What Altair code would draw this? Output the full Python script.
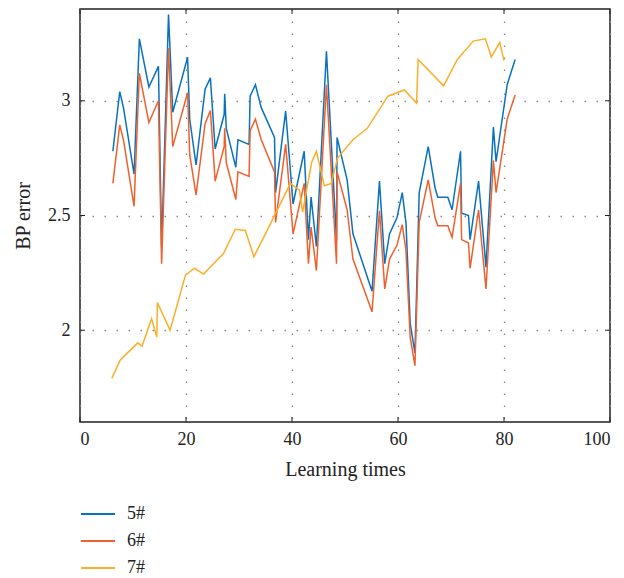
import altair as alt
import pandas as pd

# ---- data ----
x56 = [6.2, 7.5, 8.2, 10.2, 11.2, 13.0, 14.8, 15.4, 16.7, 17.5, 20.3, 20.7, 21.9, 23.6, 24.6,
       25.5, 27.2, 27.3, 27.6, 29.4, 29.8, 31.9, 32.1, 33.1, 34.2, 36.7, 36.9, 38.8, 40.2, 42.3,
       43.1, 43.6, 44.6, 46.5, 48.4, 48.5, 50.4, 51.5, 55.1, 56.5, 57.5, 58.4, 59.8, 60.8, 61.5,
       62.3, 63.2, 64.0, 65.7, 67.0, 67.5, 69.4, 70.2, 71.8, 72.0, 73.3, 73.6, 75.2, 76.6, 78.0,
       78.5, 80.6, 82.1]
y5 = [2.78, 3.04, 2.97, 2.68, 3.27, 3.06, 3.15, 2.36, 3.376, 2.95, 3.19, 2.92, 2.72, 3.05, 3.10,
      2.79, 2.94, 3.03, 2.88, 2.71, 2.83, 2.81, 3.02, 3.07, 2.97, 2.84, 2.60, 2.955, 2.55, 2.78,
      2.395, 2.58, 2.365, 3.216, 2.39, 2.84, 2.655, 2.42, 2.17, 2.65, 2.29, 2.42, 2.49, 2.60, 2.47,
      2.03, 1.90, 2.60, 2.80, 2.62, 2.58, 2.58, 2.525, 2.78, 2.51, 2.50, 2.395, 2.65, 2.275, 2.885,
      2.735, 3.07, 3.18]
y6 = [2.64, 2.895, 2.83, 2.54, 3.12, 2.905, 3.0, 2.29, 3.23, 2.80, 3.035, 2.765, 2.59, 2.90, 2.957,
      2.65, 2.80, 2.88, 2.73, 2.57, 2.69, 2.67, 2.87, 2.92, 2.83, 2.69, 2.47, 2.81, 2.42, 2.64,
      2.29, 2.45, 2.26, 3.07, 2.29, 2.69, 2.525, 2.31, 2.08, 2.52, 2.18, 2.31, 2.37, 2.46, 2.35,
      1.97, 1.845, 2.47, 2.655, 2.49, 2.455, 2.455, 2.405, 2.64, 2.395, 2.38, 2.27, 2.525, 2.18, 2.74,
      2.60, 2.92, 3.025]
x7 = [6.0, 7.6, 10.9, 11.7, 13.5, 14.5, 14.6, 17.0, 19.9, 21.6, 23.3, 27.1, 29.3, 31.2, 32.8,
      35.2, 39.7, 41.4, 42.0, 43.7, 44.6, 46.1, 47.4, 48.6, 51.5, 54.2, 58.1, 61.2, 63.5, 63.8,
      68.6, 71.2, 74.2, 76.5, 77.6, 79.2, 80.0]
y7 = [1.79, 1.87, 1.945, 1.93, 2.05, 1.97, 2.12, 2.00, 2.24, 2.27, 2.245, 2.335, 2.44, 2.435, 2.32,
      2.43, 2.64, 2.61, 2.515, 2.73, 2.78, 2.63, 2.64, 2.75, 2.83, 2.88, 3.02, 3.047, 2.99, 3.18,
      3.065, 3.18, 3.26, 3.27, 3.19, 3.255, 3.175]

series_names = ["5#", "6#", "7#"]
series_colors = ["#0A72BD", "#F0602C", "#FBAF2A"]
x_ticks = [0, 20, 40, 60, 80, 100]
y_ticks = [2, 2.5, 3]

rows = []
for name, xs, ys in [("5#", x56, y5), ("6#", x56, y6), ("7#", x7, y7)]:
    for i, (a, b) in enumerate(zip(xs, ys)):
        rows.append({"series": name, "x": a, "y": b, "idx": i})
df = pd.DataFrame(rows)

W, H = 530, 413
FONT = "Liberation Serif"
xscale = alt.Scale(domain=[0, 100], nice=False, zero=False)
yscale = alt.Scale(domain=[1.6, 3.4], nice=False, zero=False)

lines = alt.Chart(df).mark_line(strokeWidth=1.5).encode(
    x=alt.X("x:Q", scale=xscale,
            axis=alt.Axis(title="Learning times", values=x_ticks, ticks=False, domain=False,
                          labelPadding=8, titlePadding=11, format="d")),
    y=alt.Y("y:Q", scale=yscale,
            axis=alt.Axis(title="BP error", values=y_ticks, ticks=False, domain=False,
                          labelPadding=10, titlePadding=14, format="~g")),
    color=alt.Color("series:N",
                    scale=alt.Scale(domain=series_names, range=series_colors),
                    legend=alt.Legend(title=None, orient="none", legendX=0, legendY=487,
                                      symbolType="stroke", symbolSize=1156,
                                      symbolStrokeWidth=2, labelFontSize=18,
                                      labelOffset=11, rowPadding=-1.2, padding=0,
                                      labelFont=FONT, labelColor="#222")),
    order="idx:Q",
)

xt = pd.DataFrame({"x": x_ticks})
yt = pd.DataFrame({"y": y_ticks})
tick_style = dict(color="#222", strokeWidth=1)
top_ticks = alt.Chart(xt).mark_rule(**tick_style).encode(
    x=alt.X("x:Q", scale=xscale), y=alt.value(0), y2=alt.value(5))
bot_ticks = alt.Chart(xt).mark_rule(**tick_style).encode(
    x=alt.X("x:Q", scale=xscale), y=alt.value(H), y2=alt.value(H - 5))
left_ticks = alt.Chart(yt).mark_rule(**tick_style).encode(
    y=alt.Y("y:Q", scale=yscale), x=alt.value(0), x2=alt.value(5))
right_ticks = alt.Chart(yt).mark_rule(**tick_style).encode(
    y=alt.Y("y:Q", scale=yscale), x=alt.value(W), x2=alt.value(W - 5))

chart = alt.layer(lines, top_ticks, bot_ticks, left_ticks, right_ticks).properties(
    width=W, height=H,
    autosize=alt.AutoSizeParams(type="none"),
    padding={"left": 80, "top": 9, "right": 14, "bottom": 156},
    background="white",
).configure(font=FONT).configure_view(
    stroke="#222", strokeWidth=1.5
).configure_axis(
    grid=True, gridColor="#888", gridDash=[1.5, 10.5], gridWidth=1.3,
    labelFont=FONT, labelFontSize=18, labelColor="#222",
    titleFont=FONT, titleFontSize=20, titleFontWeight="normal", titleColor="#222",
)

chart.save("out.html", embed_options={"renderer": "svg", "actions": False})
